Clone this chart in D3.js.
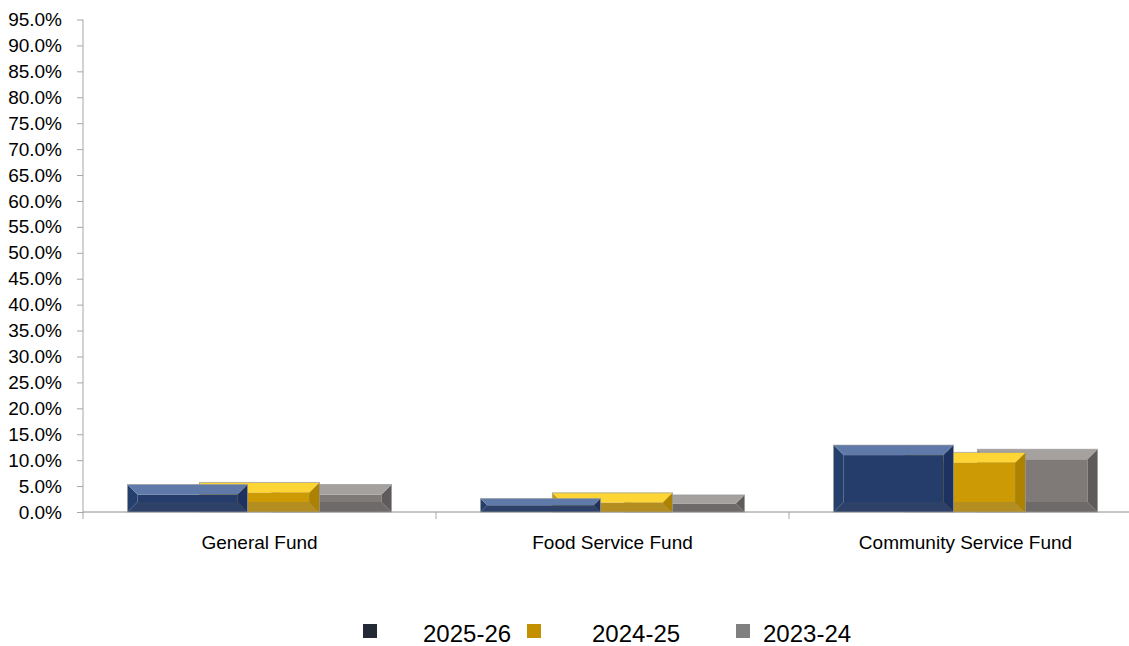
<!DOCTYPE html>
<html>
<head>
<meta charset="utf-8">
<script src="https://cdn.jsdelivr.net/npm/d3@7"></script>
<style>
  body { margin: 0; background: #fff; }
  text { font-family: "Liberation Sans", Arial, sans-serif; fill: #000; }
</style>
</head>
<body>
<svg id="chart" width="1129" height="646"></svg>
<script>
/* global d3 */

const categories = ['General Fund', 'Food Service Fund', 'Community Service Fund']
const seriesNames = ['2025-26', '2024-25', '2023-24']
const values2025 = [0.053, 0.026, 0.129]
const values2024 = [0.057, 0.037, 0.115]
const values2023 = [0.053, 0.033, 0.121]
const yTicks = d3.range(0, 20).map(i => i * 0.05)

const seriesValues = [values2025, values2024, values2023]

// bevel shades for each series: face, top, right, bottom, left
const shades = [
  { face: '#243d6a', top: '#5f7aa9', right: '#1d3260', bottom: '#2d4169', left: '#253f6d', key: '#232a36' },
  { face: '#cc9a05', top: '#fdd535', right: '#ad8200', bottom: '#b48e20', left: '#cd9b06', key: '#c49000' },
  { face: '#7f7a78', top: '#a5a19f', right: '#5f5b5a', bottom: '#6e6a69', left: '#807b79', key: '#808080' }
]

const svg = d3.select('#chart')
const plotLeft = 83
const plotRight = 1142
const plotTop = 19.5
const plotBottom = 512

const x = d3.scaleBand()
  .domain(categories)
  .range([plotLeft, plotRight])
  .padding(0)

const y = d3.scaleLinear()
  .domain([0, 0.95])
  .range([plotBottom, plotTop])

// bars overlap: each bar 120 wide, stepped by 72 within a 264 wide cluster
const groupWidth = x.bandwidth() * 264 / 353
const barWidth = groupWidth * 120 / 264
const barStep = groupWidth * 72 / 264

const axisColor = '#a6a6a6'

// y axis
const yAxis = svg.append('g')
  .attr('transform', 'translate(' + plotLeft + ',0)')
  .call(d3.axisLeft(y).tickValues(yTicks).tickSize(6).tickPadding(14).tickFormat(d3.format('.1%')))
yAxis.select('.domain').remove()
yAxis.selectAll('line').attr('stroke', axisColor)
yAxis.selectAll('text')
  .style('font-size', '19px')
  .style('font-family', '"Liberation Sans", Arial, sans-serif')
  .attr('fill', '#000')
  .attr('dx', '-1')

svg.append('line')
  .attr('x1', plotLeft).attr('x2', plotLeft)
  .attr('y1', plotTop).attr('y2', plotBottom + 7)
  .attr('stroke', axisColor)

// x axis
svg.append('line')
  .attr('x1', plotLeft).attr('x2', 1129)
  .attr('y1', plotBottom).attr('y2', plotBottom)
  .attr('stroke', '#8c8c8c')

svg.selectAll('.xtick')
  .data(categories.slice(1))
  .enter()
  .append('line')
  .attr('class', 'xtick')
  .attr('x1', d => x(d)).attr('x2', d => x(d))
  .attr('y1', plotBottom).attr('y2', plotBottom + 7)
  .attr('stroke', axisColor)

svg.selectAll('.xlabel')
  .data(categories)
  .enter()
  .append('text')
  .attr('class', 'xlabel')
  .attr('x', d => x(d) + x.bandwidth() / 2)
  .attr('y', 549)
  .attr('text-anchor', 'middle')
  .style('font-size', '19px')
  .text(d => d)

// bars, back series first so the first series sits in front
const bars = []
categories.forEach((cat, ci) => {
  for (let si = seriesNames.length - 1; si >= 0; si--) {
    bars.push({ cat: cat, si: si, value: seriesValues[si][ci] })
  }
})

const barG = svg.selectAll('.bar')
  .data(bars)
  .enter()
  .append('g')
  .attr('class', 'bar')

barG.each(function (d) {
  const g = d3.select(this)
  const x0 = x(d.cat) + (x.bandwidth() - groupWidth) / 2 + d.si * barStep
  const x1 = x0 + barWidth
  const y0 = y(d.value)
  const y1 = y(0)
  const h = y1 - y0
  const b = Math.min(10, h / 2, barWidth / 2)
  const s = shades[d.si]
  const pts = p => p.map(q => q.join(',')).join(' ')

  g.append('rect')
    .attr('x', x0 + b).attr('y', y0 + b)
    .attr('width', barWidth - 2 * b).attr('height', Math.max(0, h - 2 * b))
    .attr('fill', s.face)
  g.append('polygon')
    .attr('points', pts([[x0, y0], [x0 + b, y0 + b], [x0 + b, y1 - b], [x0, y1]]))
    .attr('fill', s.left)
  g.append('polygon')
    .attr('points', pts([[x0, y1], [x1, y1], [x1 - b, y1 - b], [x0 + b, y1 - b]]))
    .attr('fill', s.bottom)
  g.append('polygon')
    .attr('points', pts([[x1, y0], [x1, y1], [x1 - b, y1 - b], [x1 - b, y0 + b]]))
    .attr('fill', s.right)
  g.append('polygon')
    .attr('points', pts([[x0, y0], [x1, y0], [x1 - b, y0 + b], [x0 + b, y0 + b]]))
    .attr('fill', s.top)
  g.append('rect')
    .attr('x', x0).attr('y', y0)
    .attr('width', barWidth).attr('height', h)
    .attr('fill', 'none')
    .attr('stroke', '#9a9a9a')
    .attr('stroke-opacity', 0.7)
    .attr('stroke-width', 1)
})

// legend
const legendKeyX = [363, 527, 736]
const legendTextX = [423, 592, 763]

const legend = svg.selectAll('.legend')
  .data(seriesNames)
  .enter()
  .append('g')
  .attr('class', 'legend')

legend.append('rect')
  .attr('x', (d, i) => legendKeyX[i])
  .attr('y', 624)
  .attr('width', 14)
  .attr('height', 14)
  .attr('fill', (d, i) => shades[i].key)

legend.append('text')
  .attr('x', (d, i) => legendTextX[i])
  .attr('y', 642)
  .style('font-size', '24px')
  .text(d => d)
</script>
</body>
</html>
